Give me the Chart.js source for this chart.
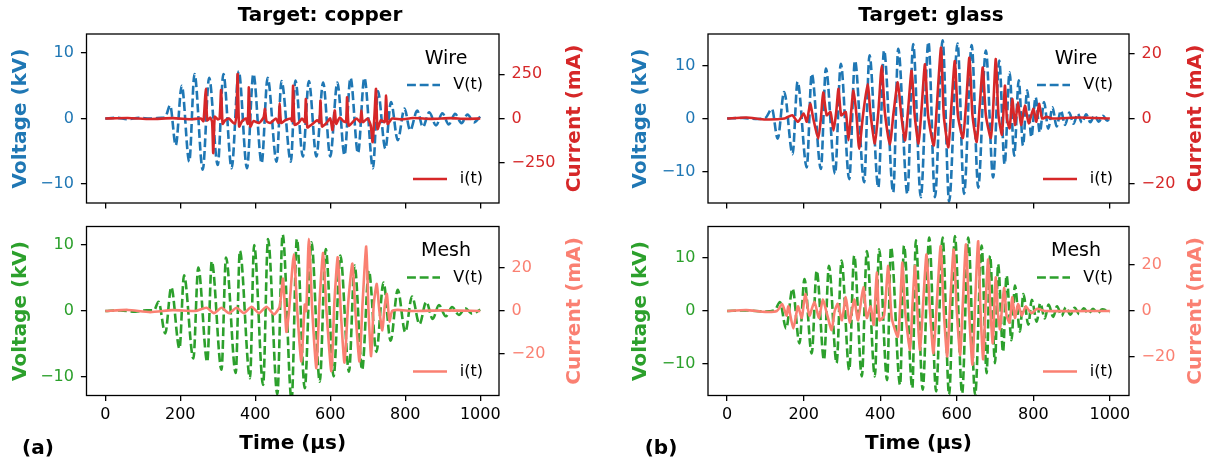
<!DOCTYPE html>
<html>
<head>
<meta charset="utf-8">
<script src="https://cdn.jsdelivr.net/npm/chart.js@4.4.1/dist/chart.umd.min.js"></script>
<style>
  body { margin: 0; background: #fff; }
  #wrap { position: relative; width: 1214px; height: 463px; overflow: hidden; font-family: 'DejaVu Sans', sans-serif; }
  canvas { position: absolute; }
  .lbl { position: absolute; font-weight: bold; font-size: 20px; white-space: nowrap; transform: translate(-50%, -50%); color: #000; }
</style>
</head>
<body>
<div id="wrap">
  <canvas id="cuWire" width="607" height="225" style="left:0;top:0"></canvas>
  <canvas id="glWire" width="607" height="225" style="left:607px;top:0"></canvas>
  <canvas id="cuMesh" width="607" height="263" style="left:0;top:200px"></canvas>
  <canvas id="glMesh" width="607" height="263" style="left:607px;top:200px"></canvas>
  <div class="lbl" style="left:320px;top:14px">Target: copper</div>
  <div class="lbl" style="left:931px;top:14px">Target: glass</div>
  <div class="lbl" style="left:38px;top:447px">(a)</div>
  <div class="lbl" style="left:661px;top:447px">(b)</div>
</div>
<script>
// tick values
const timeTicks = [0, 200, 400, 600, 800, 1000];
const voltTicks = [-10, 0, 10];
const cuWireCurTicks = [-250, 0, 250];
const curTicks20 = [-20, 0, 20];

// [time µs, kV] / [time µs, mA]
const cuWireVolt = [[0,0],[30,0.1],[60,-0.1],[90,0.1],[120,0],[150,0.1],[160,0.2],[173,2.0],[188,-4.1],[204,5.0],[224,-6.6],[238,6.8],[260,-7.8],[277,6.2],[300,-7.1],[315,6.8],[337,-7.6],[356,7.2],[378,-7.6],[395,6.8],[417,-6.8],[433,6.2],[457,-6.6],[470,5.7],[495,-6.6],[507,5.8],[527,-5.8],[543,5.7],[563,-5.8],[581,5.5],[600,-5.8],[619,5.5],[638,-5.6],[654,6.2],[674,-5.3],[691,6.2],[714,-7.6],[727,4.2],[747,-4.6],[762,2.5],[780,-3.3],[798,1.5],[813,-1.8],[832,1.2],[847,-1.3],[864,0.95],[882,-1.05],[899,0.8],[916,-0.9],[933,0.7],[950,-0.7],[966,0.6],[983,-0.6],[1000,0.3]];
const cuWireCur = [[0,0],[60,3],[120,-3],[180,2],[230,-4],[255,0],[262,-15],[268,167],[272,-10],[280,5],[285,-20],[288,-195],[292,10],[300,-5],[305,0],[309,161],[313,-30],[320,-10],[330,0],[345,-30],[350,30],[353,251],[357,-45],[365,-15],[375,0],[380,-30],[383,176],[387,-45],[395,-15],[410,-25],[422,5],[426,54],[430,-15],[440,-25],[455,0],[462,-25],[465,86],[469,-25],[480,-10],[495,0],[498,-15],[501,185],[505,-35],[515,-25],[525,0],[532,-20],[535,110],[539,-50],[550,-35],[565,-10],[571,-20],[574,101],[578,-45],[590,-25],[600,0],[606,-65],[612,45],[616,-30],[625,5],[635,-15],[642,-20],[645,120],[649,-40],[660,-20],[670,0],[680,-20],[683,45],[687,-20],[700,0],[708,-40],[713,-133],[718,20],[722,167],[726,-60],[735,-10],[745,-20],[749,129],[753,-30],[765,0],[790,-5],[820,3],[870,-2],[920,2],[960,-2],[1000,0]];

const cuMeshVolt = [[0,0],[40,0.1],[80,-0.1],[110,0.1],[130,0.1],[142,1.4],[160,-3.4],[176,3.6],[198,-5.7],[210,5.4],[235,-7.2],[248,6.6],[272,-7.7],[284,7.5],[310,-8.9],[322,8.1],[348,-9.4],[359,9.1],[386,-10.2],[397,10.0],[421,-11.2],[434,10.9],[459,-12.6],[473,11.6],[497,-13.5],[511,10.9],[532,-11.7],[550,10.4],[572,-10.7],[588,9.4],[609,-9.9],[627,8.4],[650,-9.2],[665,6.9],[685,-8.9],[703,6.1],[723,-6.2],[742,4.3],[761,-4.5],[780,3.2],[800,-3.2],[818,2.2],[838,-2.0],[856,1.4],[873,-1.2],[890,0.9],[908,-0.8],[925,0.6],[943,-0.6],[960,0.4],[978,-0.4],[1000,0.2]];
const cuMeshCur = [[0,0],[60,0.5],[120,-0.5],[180,0.4],[240,0],[270,1.5],[290,-1],[310,1.5],[330,-1],[350,1.5],[370,-1],[390,2],[410,-1],[430,2],[450,-1.5],[465,2],[474,15],[483,-9.7],[490,0],[503,26.4],[512,0],[523,-23.5],[532,3],[536,0],[543,33.6],[552,0],[563,-26.6],[571,3],[581,27],[590,0],[603,-28],[611,4],[620,25],[628,0],[638,-24],[648,4],[659,22],[667,0],[678,-23.5],[686,3],[696,30],[702,0],[709,-21],[716,3],[724,12.6],[731,0],[739,-9],[745,2],[751,8],[755,0],[758,-5],[765,0],[780,0.5],[820,0],[900,0.3],[1000,0]];

const glWireVolt = [[0,0],[40,0.1],[80,-0.1],[100,0.1],[117,1.8],[132,-3.8],[149,5.0],[171,-6.7],[184,6.9],[208,-9.2],[221,8.4],[245,-9.5],[258,9.4],[282,-10.4],[297,10.3],[319,-11.4],[334,10.9],[358,-12.0],[372,11.9],[395,-13.0],[410,12.8],[434,-13.9],[447,13.1],[471,-14.2],[486,14.0],[506,-14.8],[526,14.4],[543,-14.8],[563,14.7],[580,-15.6],[602,14.1],[619,-14.2],[639,13.8],[656,-13.0],[676,12.8],[695,-11.1],[711,10.9],[725,-8.6],[738,8.7],[750,-7.0],[762,7.2],[773,-5.1],[784,5.3],[795,-3.5],[806,4.0],[817,-2.6],[828,3.1],[839,-1.9],[850,2.1],[861,-1.5],[872,1.5],[883,-1.2],[894,1.1],[905,-1.0],[916,0.9],[927,-0.8],[938,0.8],[949,-0.7],[960,0.6],[971,-0.6],[982,0.5],[993,-0.4],[1000,0]];
const glWireCur = [[0,0],[50,0.3],[100,-0.3],[150,0],[170,1],[185,-1],[200,1.5],[208,-1],[217,4.5],[225,0],[238,-6.2],[245,0],[251,8.0],[260,1],[270,2],[278,-3.7],[285,2],[291,9.1],[298,1],[310,2],[317,-6.7],[324,2],[330,8.6],[338,1],[345,-9.3],[355,1],[367,10.6],[375,1],[386,-7.7],[395,2],[404,16.2],[412,2],[425,-8],[435,2],[446,11.1],[455,1],[465,-6.7],[473,3],[482,14.7],[490,1],[500,-7.7],[508,3],[517,16.7],[525,1],[540,-8.3],[548,4],[559,21.8],[566,1],[578,-8.8],[586,4],[595,17.7],[603,1],[616,-6],[624,4],[633,18.7],[641,1],[652,-7.2],[660,4],[668,15.7],[676,1],[689,-6],[695,3],[702,18.3],[709,1],[718,-5],[722,2],[726,10.1],[731,0],[738,-3],[745,6],[752,-2],[760,5],[768,-2],[778,4],[788,-1.5],[800,3],[808,-1],[815,4.5],[823,0],[835,0.5],[850,0],[920,0.3],[1000,0]];

const glMeshVolt = [[0,0],[50,0.1],[100,-0.1],[125,0.2],[138,1.7],[154,-3.3],[171,4.2],[189,-6.1],[202,6.0],[221,-8.0],[234,7.6],[253,-9.2],[266,8.5],[286,-9.8],[299,9.5],[319,-11.1],[332,10.4],[352,-12.3],[365,11.3],[386,-12.3],[397,11.6],[418,-13.0],[428,12.0],[452,-13.9],[462,12.3],[484,-14.5],[493,13.3],[511,-14.8],[528,13.8],[546,-15.1],[563,13.8],[580,-15.8],[595,14.1],[614,-15.5],[630,13.8],[648,-15.8],[665,12.3],[678,-11.7],[687,10.4],[700,-9.8],[708,8.8],[721,-7.7],[730,6.7],[743,-5.5],[752,4.8],[765,-3.9],[774,3.2],[787,-2.6],[796,2.1],[809,-2.0],[818,1.5],[830,-1.4],[840,1.2],[852,-1.1],[862,0.9],[874,-0.9],[885,0.7],[897,-0.7],[908,0.6],[920,-0.6],[932,0.5],[944,-0.5],[956,0.4],[968,-0.4],[980,0.3],[1000,-0.2]];
const glMeshCur = [[0,0],[50,0.4],[100,-0.4],[130,0],[144,3],[155,-2],[160,2],[173,-7.6],[185,2],[195,-3],[204,7.4],[215,-2],[228,4],[240,-3],[250,5],[262,-2],[273,-8.3],[281,0],[289,3.1],[300,-4],[310,6],[320,-5],[332,5],[342,-4],[356,10.3],[365,-3],[375,2],[383,-6],[391,16.7],[398,-4],[410,-2],[421,19.6],[430,-3],[446,-11.2],[452,2],[458,21],[465,0],[478,-16.9],[484,2],[491,19.6],[497,0],[504,-16.9],[512,3],[521,24.6],[530,0],[539,-18.3],[548,4],[558,28.2],[566,0],[575,-19.7],[583,4],[592,26.7],[600,0],[609,-19],[616,4],[624,28.9],[632,0],[641,-23.3],[648,4],[656,30.3],[662,0],[669,-21],[675,2],[682,22.4],[688,0],[694,-14],[698,2],[702,14.6],[707,0],[713,-8],[718,1],[724,10],[730,-2],[738,-5],[745,6],[752,-3],[760,3],[770,-2],[780,2],[795,-1],[810,1],[830,0],[1000,0]];

Chart.defaults.font.family = "'DejaVu Sans', sans-serif";

function toPts(arr) {
    return arr.map(p => ({ x: p[0], y: p[1] }));
}

// plain numbers with a real minus sign, no thousands separator
function fmt(v) {
    return String(v).replace('-', '\u2212');
}

// frame, axis titles and the two legends of a panel
const panelDecor = {
    id: 'panelDecor',
    afterDraw(chart, args, o) {
        const ctx = chart.ctx;
        const a = chart.chartArea;
        const cy = (a.top + a.bottom) / 2;
        const R = a.right;
        ctx.save();
        ctx.lineWidth = 1.3;
        ctx.strokeStyle = '#000';
        ctx.strokeRect(a.left, a.top, a.right - a.left, a.bottom - a.top);

        ctx.font = "bold 20px 'DejaVu Sans'";
        ctx.textAlign = 'center';
        ctx.textBaseline = 'middle';
        [[o.vTitleX, o.vColor, 'Voltage (kV)'], [o.iTitleX, o.iColor, 'Current (mA)']].forEach(t => {
            ctx.save();
            ctx.translate(t[0], cy);
            ctx.rotate(-Math.PI / 2);
            ctx.fillStyle = t[1];
            ctx.fillText(t[2], 0, 0);
            ctx.restore();
        });
        if (o.xTitleY) {
            ctx.fillStyle = '#000';
            ctx.fillText('Time (µs)', (a.left + a.right) / 2, o.xTitleY);
        }

        // legends
        ctx.fillStyle = '#000';
        ctx.font = "19px 'DejaVu Sans'";
        ctx.fillText(o.name, R - 53, a.top + 25);
        ctx.font = "16px 'DejaVu Sans'";
        ctx.textAlign = 'right';
        ctx.fillText('V(t)', R - 16, a.top + 51);
        ctx.fillText('i(t)', R - 16, a.bottom - 24);
        ctx.lineWidth = 2.6;
        ctx.strokeStyle = o.vColor;
        ctx.setLineDash([8.9, 3.8]);
        ctx.beginPath();
        ctx.moveTo(R - 92, a.top + 51);
        ctx.lineTo(R - 59, a.top + 51);
        ctx.stroke();
        ctx.setLineDash([]);
        ctx.strokeStyle = o.iColor;
        ctx.beginPath();
        ctx.moveTo(R - 86, a.bottom - 24);
        ctx.lineTo(R - 52, a.bottom - 24);
        ctx.stroke();
        ctx.restore();
    }
};

function makePanel(id, p) {
    const tickMark = { display: true, drawOnChartArea: false, drawTicks: true, tickLength: 5.6, color: '#000', lineWidth: 1.3 };
    return new Chart(document.getElementById(id), {
        type: 'line',
        data: {
            datasets: [
                {
                    label: 'V(t)', data: toPts(p.volt), yAxisID: 'yV', order: 2,
                    borderColor: p.vColor, borderWidth: 2.6, borderDash: [8.9, 3.8],
                    pointRadius: 0, cubicInterpolationMode: 'monotone'
                },
                {
                    label: 'i(t)', data: toPts(p.cur), yAxisID: 'yI', order: 1,
                    borderColor: p.iColor, borderWidth: 2.6, pointRadius: 0, tension: 0.2
                }
            ]
        },
        options: {
            responsive: false,
            animation: false,
            events: [],
            layout: { padding: { top: p.padTop, bottom: p.padBottom, left: 0, right: 0 } },
            plugins: {
                legend: { display: false },
                tooltip: { enabled: false },
                panelDecor: p.decor
            },
            scales: {
                x: {
                    type: 'linear', min: -50, max: 1050,
                    afterBuildTicks: s => { s.ticks = timeTicks.map(v => ({ value: v })); },
                    afterFit: s => { s.height = p.xH; },
                    grid: tickMark, border: { display: false },
                    ticks: { display: p.xLabels, color: '#000', font: { size: 16 }, padding: 4, maxRotation: 0, autoSkip: false, callback: fmt }
                },
                yV: {
                    position: 'left', min: -p.vLim, max: p.vLim,
                    afterBuildTicks: s => { s.ticks = voltTicks.map(v => ({ value: v })); },
                    afterFit: s => { s.width = p.vW; },
                    grid: tickMark, border: { display: false },
                    ticks: { color: p.vColor, font: { size: 16 }, padding: 7, callback: fmt }
                },
                yI: {
                    position: 'right', min: -p.iLim, max: p.iLim,
                    afterBuildTicks: s => { s.ticks = p.iTicks.map(v => ({ value: v })); },
                    afterFit: s => { s.width = p.iW; },
                    grid: tickMark, border: { display: false },
                    ticks: { color: p.iColor, font: { size: 16 }, padding: 7, callback: fmt }
                }
            }
        },
        plugins: [panelDecor]
    });
}

const blue = '#1f77b4', red = '#d62728', green = '#2ca02c', salmon = '#fa8072';

makePanel('cuWire', {
    volt: cuWireVolt, cur: cuWireCur, vColor: blue, iColor: red,
    vLim: 12.9, iLim: 477, iTicks: cuWireCurTicks,
    padTop: 34, padBottom: 0, xH: 22, xLabels: false, vW: 86.5, iW: 108,
    decor: { vColor: blue, iColor: red, vTitleX: 21, iTitleX: 575, name: 'Wire' }
});
makePanel('cuMesh', {
    volt: cuMeshVolt, cur: cuMeshCur, vColor: green, iColor: salmon,
    vLim: 12.8, iLim: 39.3, iTicks: curTicks20,
    padTop: 26.5, padBottom: 7, xH: 60.5, xLabels: true, vW: 86.5, iW: 108,
    decor: { vColor: green, iColor: salmon, vTitleX: 21, iTitleX: 575, name: 'Mesh', xTitleY: 244 }
});
makePanel('glWire', {
    volt: glWireVolt, cur: glWireCur, vColor: blue, iColor: red,
    vLim: 15.9, iLim: 26, iTicks: curTicks20,
    padTop: 34, padBottom: 0, xH: 22, xLabels: false, vW: 101, iW: 85,
    decor: { vColor: blue, iColor: red, vTitleX: 34, iTitleX: 589, name: 'Wire' }
});
makePanel('glMesh', {
    volt: glMeshVolt, cur: glMeshCur, vColor: green, iColor: salmon,
    vLim: 15.9, iLim: 36.7, iTicks: curTicks20,
    padTop: 26.5, padBottom: 7, xH: 60.5, xLabels: true, vW: 101, iW: 85,
    decor: { vColor: green, iColor: salmon, vTitleX: 34, iTitleX: 589, name: 'Mesh', xTitleY: 244 }
});
</script>
</body>
</html>
